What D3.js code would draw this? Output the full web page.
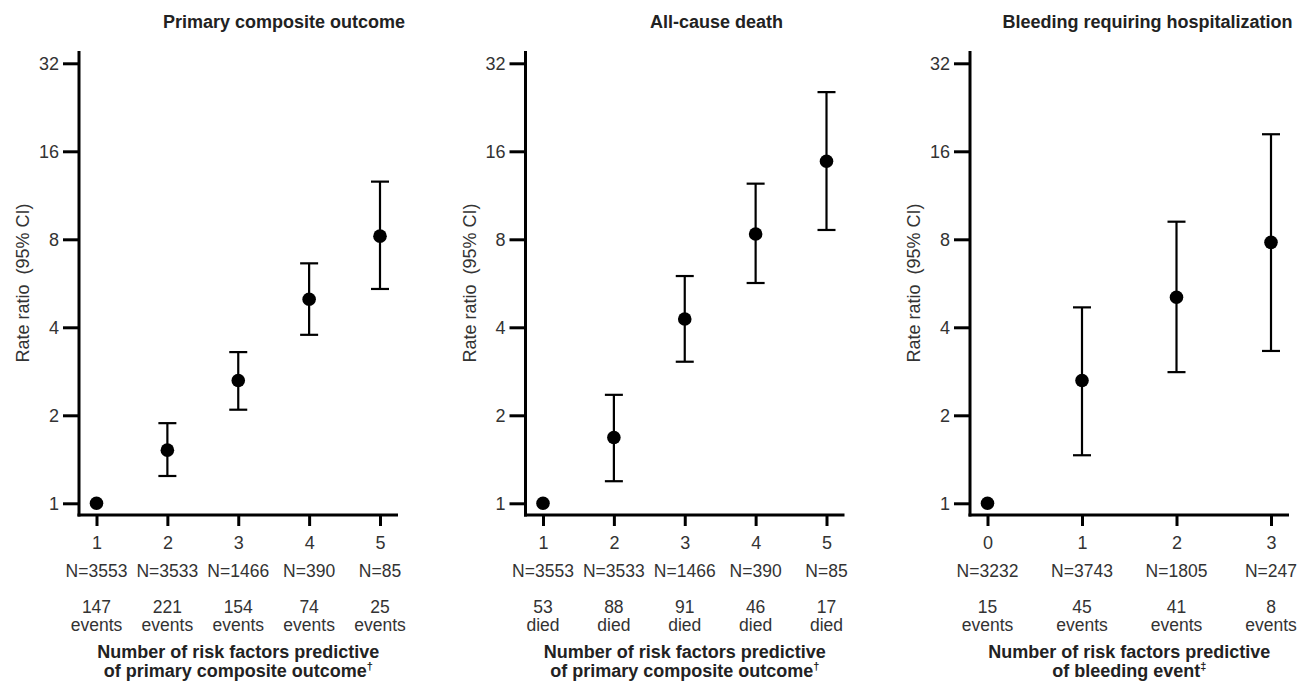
<!DOCTYPE html>
<html>
<head>
<meta charset="utf-8">
<script src="https://cdn.jsdelivr.net/npm/d3@7"></script>
<style>
  body { margin: 0; background: #fff; }
  text { font-family: "Liberation Sans", Arial, sans-serif; }
</style>
</head>
<body>
<div id="chart"></div>
<script>
// ---- data ----
const panelTitles = ["Primary composite outcome", "All-cause death", "Bleeding requiring hospitalization"];

const riskCats5 = ["1", "2", "3", "4", "5"];
const riskCats4 = ["0", "1", "2", "3"];

const nLabels5 = ["N=3553", "N=3533", "N=1466", "N=390", "N=85"];
const nLabels4 = ["N=3232", "N=3743", "N=1805", "N=247"];

const primaryEvents = [147, 221, 154, 74, 25];
const deathCounts   = [53, 88, 91, 46, 17];
const bleedEvents   = [15, 45, 41, 8];

const primaryRR = [1, 1.52, 2.63, 4.99, 8.2];
const primaryLo = [null, 1.24, 2.09, 3.77, 5.41];
const primaryHi = [null, 1.88, 3.29, 6.62, 12.6];

const deathRR = [1, 1.68, 4.27, 8.34, 14.8];
const deathLo = [null, 1.19, 3.05, 5.67, 8.61];
const deathHi = [null, 2.35, 5.99, 12.4, 25.5];

const bleedRR = [1, 2.63, 5.07, 7.81];
const bleedLo = [null, 1.46, 2.81, 3.32];
const bleedHi = [null, 4.68, 9.19, 18.3];

const yTicks = [1, 2, 4, 8, 16, 32];

const xTitleLine1 = "Number of risk factors predictive";
const xTitleLine2 = ["of primary composite outcome", "of primary composite outcome", "of bleeding event"];
const xTitleMark  = ["\u2020", "\u2020", "\u2021"];

// ---- layout ----
const W = 1309, H = 684;
const axisY = 515, axisTop = 51;
const plotW = 319;

const svg = d3.select("#chart").append("svg")
  .attr("width", W)
  .attr("height", H);

// shared log2 y scale
const y = d3.scaleLog().base(2).domain([1, 32]).range([503.3, 63.3]);

const panels = [
  { x0: 79,    titleX: 284,    cats: riskCats5, nLab: nLabels5, counts: primaryEvents, word: "events", rr: primaryRR, lo: primaryLo, hi: primaryHi },
  { x0: 525.5, titleX: 716.5,  cats: riskCats5, nLab: nLabels5, counts: deathCounts,   word: "died",   rr: deathRR,   lo: deathLo,   hi: deathHi },
  { x0: 970,   titleX: 1147.5, cats: riskCats4, nLab: nLabels4, counts: bleedEvents,   word: "events", rr: bleedRR,   lo: bleedLo,   hi: bleedHi }
];

panels.forEach((p, pi) => {
  const g = svg.append("g");
  const x = d3.scalePoint()
    .domain(p.cats)
    .range([p.x0 + 17.5, p.x0 + plotW - 18]);

  // title
  g.append("text")
    .attr("x", p.titleX).attr("y", 28)
    .attr("text-anchor", "middle")
    .attr("font-size", "18px").attr("font-weight", "bold")
    .attr("fill", "#222")
    .text(panelTitles[pi]);

  // y axis
  const yAx = g.append("g")
    .attr("transform", `translate(${p.x0},0)`)
    .call(d3.axisLeft(y).tickValues(yTicks).tickFormat(d3.format("d")).tickSize(16).tickPadding(4));
  yAx.select(".domain").remove();
  yAx.selectAll(".tick line").attr("stroke", "#000").attr("stroke-width", 3);
  yAx.selectAll(".tick text").attr("font-size", "18px").attr("fill", "#333")
    .attr("font-family", "Liberation Sans, Arial, sans-serif");

  g.append("line")
    .attr("x1", p.x0).attr("x2", p.x0)
    .attr("y1", axisTop).attr("y2", axisY + 1.5)
    .attr("stroke", "#000").attr("stroke-width", 3);

  // x axis
  const xAx = g.append("g")
    .attr("transform", `translate(0,${axisY})`)
    .call(d3.axisBottom(x).tickSize(11).tickPadding(10));
  xAx.select(".domain").remove();
  xAx.selectAll(".tick line").attr("stroke", "#000").attr("stroke-width", 3);
  xAx.selectAll(".tick text").attr("font-size", "18px").attr("fill", "#333")
    .attr("font-family", "Liberation Sans, Arial, sans-serif");

  g.append("line")
    .attr("x1", p.x0 - 1.5).attr("x2", p.x0 + plotW)
    .attr("y1", axisY).attr("y2", axisY)
    .attr("stroke", "#000").attr("stroke-width", 3);

  // y label
  g.append("text")
    .attr("transform", `translate(${p.x0 - 50},283) rotate(-90)`)
    .attr("text-anchor", "middle")
    .attr("font-size", "18px").attr("fill", "#333")
    .attr("xml:space", "preserve")
    .style("white-space", "pre")
    .text("Rate ratio  (95% CI)");

  // N labels, counts
  const rows = [
    { vals: p.nLab, y: 577 },
    { vals: p.counts, y: 613 },
    { vals: p.cats.map(() => p.word), y: 631 }
  ];
  rows.forEach(r => {
    g.selectAll(null).data(p.cats).enter().append("text")
      .attr("x", d => x(d)).attr("y", r.y)
      .attr("text-anchor", "middle")
      .attr("font-size", "17.5px").attr("fill", "#333")
      .text((d, i) => r.vals[i]);
  });

  // x title
  g.append("text")
    .attr("x", x.range()[0] / 2 + x.range()[1] / 2).attr("y", 658)
    .attr("text-anchor", "middle")
    .attr("font-size", "18px").attr("font-weight", "bold").attr("fill", "#222")
    .text(xTitleLine1);
  const t2 = g.append("text")
    .attr("x", x.range()[0] / 2 + x.range()[1] / 2).attr("y", 677)
    .attr("text-anchor", "middle")
    .attr("font-size", "18px").attr("font-weight", "bold").attr("fill", "#222");
  t2.append("tspan").text(xTitleLine2[pi]);
  t2.append("tspan").attr("dy", -7).attr("font-size", "11px").text(xTitleMark[pi]);

  // error bars
  const pts = p.cats.map((c, i) => ({ c, rr: p.rr[i], lo: p.lo[i], hi: p.hi[i] }));
  const withCI = pts.filter(d => d.lo != null);
  const bars = g.selectAll(null).data(withCI).enter().append("g")
    .attr("stroke", "#000").attr("stroke-width", 2.2);
  bars.append("line")
    .attr("x1", d => x(d.c)).attr("x2", d => x(d.c))
    .attr("y1", d => y(d.lo)).attr("y2", d => y(d.hi));
  bars.append("line")
    .attr("x1", d => x(d.c) - 9).attr("x2", d => x(d.c) + 9)
    .attr("y1", d => y(d.hi)).attr("y2", d => y(d.hi));
  bars.append("line")
    .attr("x1", d => x(d.c) - 9).attr("x2", d => x(d.c) + 9)
    .attr("y1", d => y(d.lo)).attr("y2", d => y(d.lo));

  // points
  g.selectAll(null).data(pts).enter().append("circle")
    .attr("cx", d => x(d.c)).attr("cy", d => y(d.rr))
    .attr("r", 6.8)
    .attr("fill", "#000");
});
</script>
</body>
</html>
